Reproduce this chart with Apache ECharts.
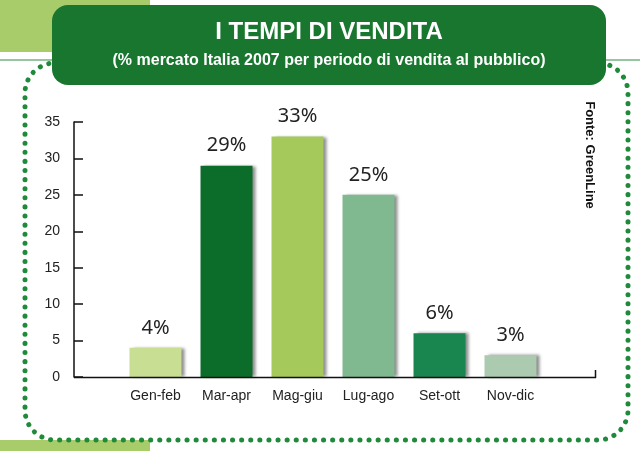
<!DOCTYPE html>
<html><head><meta charset="utf-8">
<script src="https://cdn.jsdelivr.net/npm/echarts@6/dist/echarts.min.js"></script>
<style>html,body{margin:0;padding:0;background:#fff}#c{width:640px;height:451px}</style>
</head><body><div id="c"></div>
<script>
var categories = ['Gen-feb','Mar-apr','Mag-giu','Lug-ago','Set-ott','Nov-dic'];
var values = [4, 29, 33, 25, 6, 3];
var barColors = ['#c7de93','#0c6d2b','#a6c95c','#80b98f','#19864f','#abcab0'];
var yTicks = [0,5,10,15,20,25,30,35];

var chart = echarts.init(document.getElementById('c'));
var narrow = '"Liberation Sans Narrow","Arial Narrow",sans-serif';
chart.setOption({
  animation:false,
  graphic:[
    {type:'rect',shape:{x:0,y:0,width:150,height:52},style:{fill:'#a9cc6a'},z:-10},
    {type:'rect',shape:{x:0,y:440,width:150,height:11},style:{fill:'#a9cc6a'},z:-10},
    {type:'line',shape:{x1:0,y1:60,x2:640,y2:60},style:{stroke:'#2e8b45',lineWidth:1},z:-9},
    {type:'rect',shape:{x:25,y:63,width:603,height:377,r:30},style:{fill:'#fff',stroke:'#1e8a3a',lineWidth:5,lineDash:[0.1,9],lineCap:'round'},z:-8},
    {type:'rect',shape:{x:52,y:5,width:554,height:80,r:16},style:{fill:'#18762f'},z:-5},
    {type:'text',x:329,y:32,style:{text:'I TEMPI DI VENDITA',fill:'#fff',font:'bold 24px "Liberation Sans",Arial,sans-serif',textAlign:'center',textVerticalAlign:'middle'}},
    {type:'text',x:329,y:61,style:{text:'(% mercato Italia 2007 per periodo di vendita al pubblico)',fill:'#fff',font:'bold 16px '+narrow,textAlign:'center',textVerticalAlign:'middle'}},
    {type:'text',x:590,y:155,rotation:-Math.PI/2,style:{text:'Fonte: GreenLine',fill:'#111',font:'bold 13px '+narrow,textAlign:'center',textVerticalAlign:'middle'}},
    {type:'line',shape:{x1:74,y1:377.5,x2:596,y2:377.5},style:{stroke:'#111',lineWidth:1.5},z:5},
    {type:'line',shape:{x1:595.5,y1:370,x2:595.5,y2:378},style:{stroke:'#111',lineWidth:1.5},z:5}
  ],
  grid:{left:120,right:94,top:122,bottom:74},
  xAxis:{type:'category',data:categories,
    axisLine:{show:false},axisTick:{show:false},
    axisLabel:{color:'#222',fontFamily:narrow,fontSize:14,margin:12}},
  yAxis:{type:'value',min:0,max:35,interval:5,offset:46,
    axisLine:{show:true,lineStyle:{color:'#111',width:1.5}},
    axisTick:{show:true,inside:true,length:9,lineStyle:{color:'#111',width:1.5}},
    splitLine:{show:false},
    axisLabel:{color:'#222',fontFamily:narrow,fontSize:14,margin:14,
      formatter:function(v){return yTicks.indexOf(v)>=0?String(v):'';}}},
  series:[{type:'bar',barWidth:52,
    data:values.map(function(v,i){return {value:v,itemStyle:{color:barColors[i],shadowColor:'rgba(0,0,0,0.45)',shadowBlur:3,shadowOffsetX:3,shadowOffsetY:0}};}),
    label:{show:true,position:'top',distance:10,formatter:'{c}%',color:'#222',fontFamily:'"Noto Sans",sans-serif',fontSize:20}}]
});
</script></body></html>
